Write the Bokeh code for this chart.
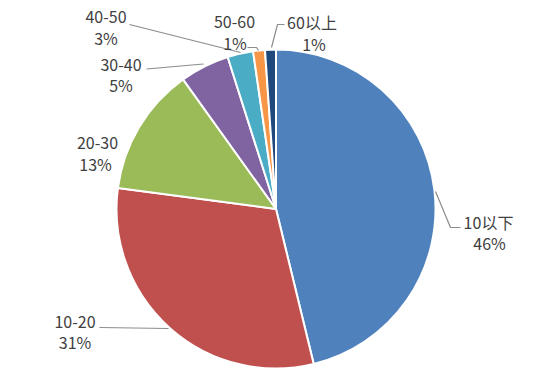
import math
from bokeh.plotting import figure
from bokeh.models import ColumnDataSource, Range1d
from bokeh.core.properties import value
from bokeh.embed import file_html
from bokeh.resources import INLINE

# ---- data ----
categories = ["10以下", "10-20", "20-30", "30-40", "40-50", "50-60", "60以上"]
shares = [46.2, 30.9, 13.0, 5.0, 2.6, 1.2, 1.1]
colors = ["#4F81BD", "#C0504D", "#9BBB59", "#8064A2", "#4BACC6", "#F79646", "#1F497D"]

# ---- layout (page pixel coords) ----
W, H = 555, 371
def px(x):
    return x
def py(y):
    return H - y

cx, cy, R = px(275.5), py(208.5), 159.5

# label centres (name line, percent line) in page coords
name_pos = [(488, 221), (74.5, 321), (97, 142), (120.5, 64), (105.5, 16), (234, 21), (311.5, 21)]
pct_pos = [(489, 242), (74.5, 341.5), (95, 163.5), (120.5, 84), (105.5, 37), (234.5, 42), (313.5, 43)]
leaders = [
    [(435, 191), (450, 227), (460, 227)],
    [(99, 327), (168, 328)],
    None,
    [(146, 68.5), (203, 63.5)],
    [(129, 24), (240, 52)],
    [(247, 47), (256, 47), (258, 50)],
    [(284, 24), (277, 24), (271, 47)],
]

total = sum(shares)
starts, ends = [], []
cum = 0.0
for s in shares:
    a0 = math.pi / 2 - 2 * math.pi * cum / total
    cum += s
    a1 = math.pi / 2 - 2 * math.pi * cum / total
    starts.append(a1)
    ends.append(a0)

src = ColumnDataSource(dict(cat=categories, start=starts, end=ends, color=colors,
                            x=[cx] * len(shares), y=[cy] * len(shares)))

p = figure(width=W, height=H, output_backend="svg", toolbar_location=None,
           x_range=Range1d(0, W), y_range=Range1d(0, H), min_border=0)
p.axis.visible = False
p.grid.visible = False
p.outline_line_color = None
p.background_fill_color = "white"
p.border_fill_color = "white"

p.wedge(x="x", y="y", radius=R, start_angle="start", end_angle="end",
        fill_color="color", line_color="white", line_width=2, source=src)

for seg in leaders:
    if seg:
        p.line([px(a) for a, b in seg], [py(b) for a, b in seg], line_color="#8c8c8c", line_width=1.2)

lab = ColumnDataSource(dict(
    x=[px(a) for a, b in name_pos] + [px(a) for a, b in pct_pos],
    y=[py(b) for a, b in name_pos] + [py(b) for a, b in pct_pos],
    t=categories + [f"{round(s)}%" for s in shares],
))
p.text(x="x", y="y", text="t", source=lab, text_align="center", text_baseline="middle",
       text_font=value("Noto Sans CJK SC"), text_font_size="16px", text_color="#404040")

open("out.html", "w").write(file_html(p, INLINE))
